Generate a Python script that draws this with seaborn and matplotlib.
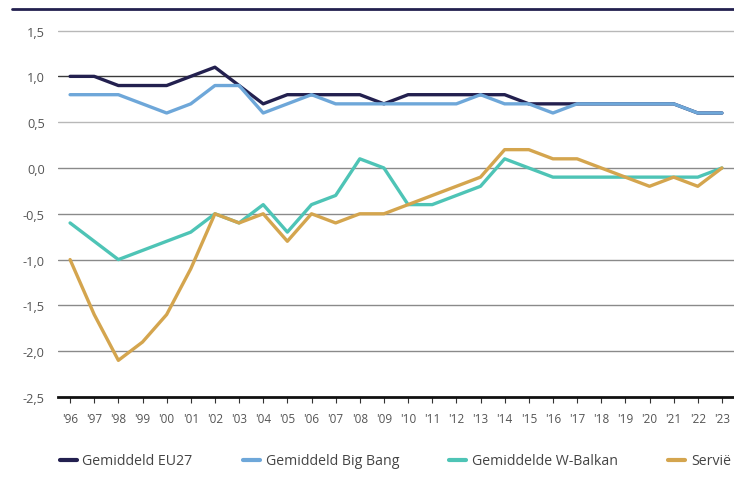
import pandas as pd
import matplotlib
matplotlib.use('Agg')
import matplotlib.pyplot as plt
import seaborn as sns
from matplotlib.lines import Line2D

years = ["'96", "'97", "'98", "'99", "'00", "'01", "'02", "'03", "'04", "'05",
         "'06", "'07", "'08", "'09", "'10", "'11", "'12", "'13", "'14", "'15",
         "'16", "'17", "'18", "'19", "'20", "'21", "'22", "'23"]

eu27 = [1.0, 1.0, 0.9, 0.9, 0.9, 1.0, 1.1, 0.9, 0.7, 0.8,
        0.8, 0.8, 0.8, 0.7, 0.8, 0.8, 0.8, 0.8, 0.8, 0.7,
        0.7, 0.7, 0.7, 0.7, 0.7, 0.7, 0.6, 0.6]
big_bang = [0.8, 0.8, 0.8, 0.7, 0.6, 0.7, 0.9, 0.9, 0.6, 0.7,
            0.8, 0.7, 0.7, 0.7, 0.7, 0.7, 0.7, 0.8, 0.7, 0.7,
            0.6, 0.7, 0.7, 0.7, 0.7, 0.7, 0.6, 0.6]
w_balkan = [-0.6, -0.8, -1.0, -0.9, -0.8, -0.7, -0.5, -0.6, -0.4, -0.7,
            -0.4, -0.3, 0.1, 0.0, -0.4, -0.4, -0.3, -0.2, 0.1, 0.0,
            -0.1, -0.1, -0.1, -0.1, -0.1, -0.1, -0.1, 0.0]
servie = [-1.0, -1.6, -2.1, -1.9, -1.6, -1.1, -0.5, -0.6, -0.5, -0.8,
          -0.5, -0.6, -0.5, -0.5, -0.4, -0.3, -0.2, -0.1, 0.2, 0.2,
          0.1, 0.1, 0.0, -0.1, -0.2, -0.1, -0.2, 0.0]

series_names = ['Gemiddeld EU27', 'Gemiddeld Big Bang', 'Gemiddelde W-Balkan', 'Servië']
colors = ['#23204f', '#6ea7d9', '#4ec4b6', '#d4a54e']
y_ticks = [1.5, 1.0, 0.5, 0.0, -0.5, -1.0, -1.5, -2.0, -2.5]

rows = []
for name, vals in zip(series_names, [eu27, big_bang, w_balkan, servie]):
    for i, v in enumerate(vals):
        rows.append({'idx': i, 'value': v, 'reeks': name})
df = pd.DataFrame(rows)

sns.set_style('white')
plt.rcParams['font.family'] = ['Open Sans', 'DejaVu Sans']

fig = plt.figure(figsize=(7.34, 4.89), dpi=100)
ax = fig.add_axes([58 / 734, 91 / 489, 676 / 734, 375.6 / 489])

# gridlines first
for t in y_ticks[:-1]:
    c = '#3a3a3a' if t == 1.0 else ('#8a8a8a' if t <= 0.0 else '#b8b8b8')
    ax.axhline(t, color=c, lw=1.0, zorder=0)

# draw order: light blue under navy, teal under gold
draw_order = [1, 0, 2, 3]
for k in draw_order:
    sub = df[df['reeks'] == series_names[k]]
    sns.lineplot(data=sub, x='idx', y='value', color=colors[k], lw=2.4,
                 ax=ax, label=series_names[k], zorder=3 + k % 2)
if ax.get_legend() is not None:
    ax.get_legend().remove()

ax.set_xlim(-0.5, 27.5)
ax.set_ylim(-2.5, 1.6)
ax.set_xticks(range(len(years)))
ax.set_xticklabels(years)
ax.set_yticks(y_ticks)
ax.set_yticklabels([f'{t:.1f}'.replace('.', ',') for t in y_ticks])
ax.set_xlabel('')
ax.set_ylabel('')
for s in ['top', 'right', 'left']:
    ax.spines[s].set_visible(False)
ax.spines['bottom'].set_color('#111111')
ax.spines['bottom'].set_linewidth(2.0)
ax.tick_params(axis='x', bottom=True, length=4, width=0.8, color='#333333',
               labelsize=8.5, labelcolor='#555555', pad=7)
ax.tick_params(axis='y', left=False, labelsize=9.2, labelcolor='#555555', pad=6)

# decorative top rule
fig.add_artist(Line2D([12 / 734, 1.0], [1 - 10 / 489, 1 - 10 / 489],
                      color='#23204f', lw=2.0))

handles = [Line2D([0], [0], color=colors[k], lw=3) for k in range(4)]
leg = fig.legend(handles, series_names, loc='center left',
                 bbox_to_anchor=(47 / 734, 1 - 462 / 489), ncol=4, frameon=False,
                 handlelength=1.2, handletextpad=0.4, columnspacing=3.55,
                 fontsize=10.2, labelcolor='#444444')

fig.savefig('out.png', dpi=100)
